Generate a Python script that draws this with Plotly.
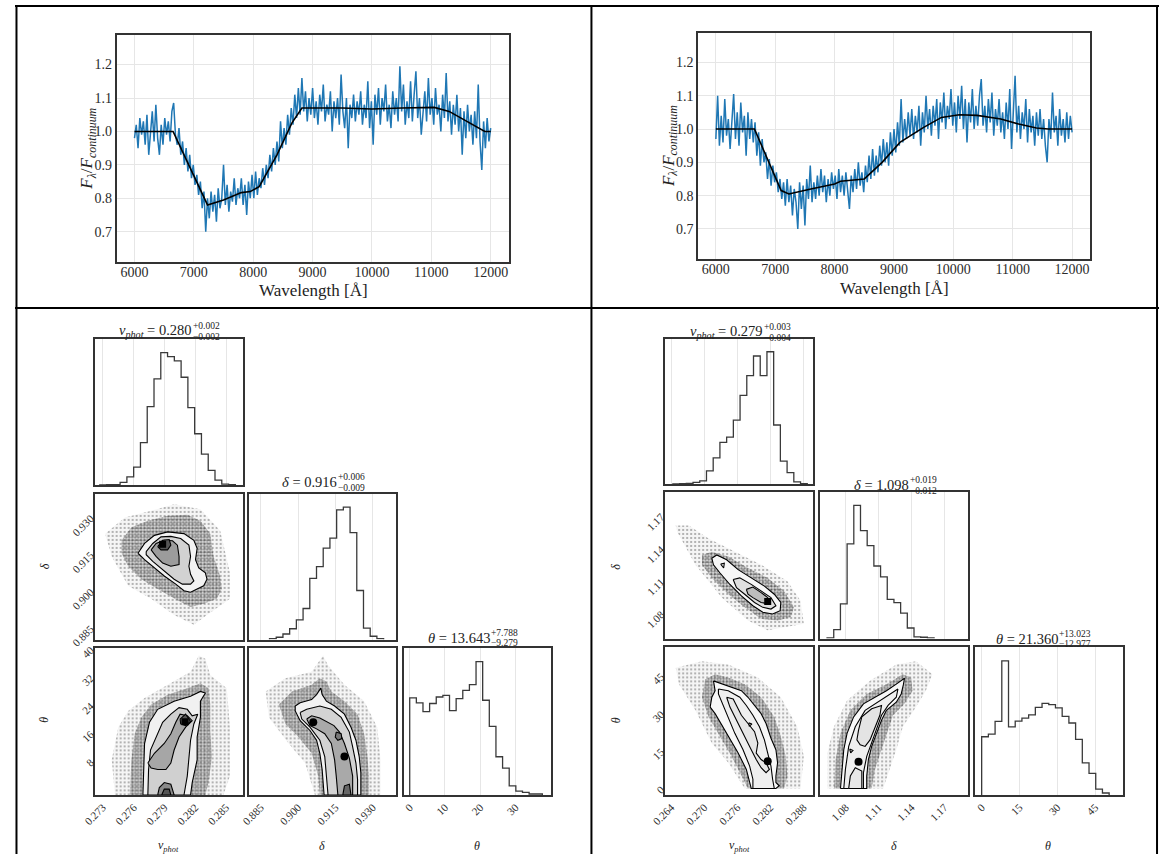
import plotly.graph_objects as go

W, H = 1159, 863
SERIF = "Liberation Serif, Times New Roman, serif"

# ---------------- spectra data ----------------
WAVELENGTH = list(range(6000, 12001, 30))
FLUX_LEFT = [
    0.98, 1.02, 0.95, 1.04, 0.99, 1.03, 0.96, 1.05, 0.93, 1.01,
    1.06, 0.97, 1.08, 0.98, 0.93, 1.02, 0.96, 1.04, 0.99, 1.03,
    0.97, 1.06, 1.085, 0.99, 0.96, 1.01, 0.93, 0.97, 0.90, 0.95,
    0.88, 0.93, 0.86, 0.90, 0.84, 0.87, 0.81, 0.85, 0.77, 0.82,
    0.70, 0.80, 0.74, 0.82, 0.76, 0.81, 0.73, 0.83, 0.77, 0.80,
    0.90, 0.78, 0.84, 0.76, 0.82, 0.79, 0.86, 0.78, 0.83, 0.80,
    0.86, 0.78, 0.84, 0.75, 0.85, 0.80, 0.87, 0.80, 0.88, 0.81,
    0.86, 0.83, 0.89, 0.84, 0.90, 0.86, 0.93, 0.88, 0.95, 0.90,
    0.97, 0.91, 1.03, 0.95, 1.01, 0.96, 1.05, 0.99, 1.07, 1.02,
    1.11, 1.04, 1.13, 1.05, 1.16, 1.06, 1.12, 1.03, 1.10, 1.05,
    1.13, 1.04, 1.09, 1.02, 1.11, 1.06, 1.14, 1.03, 1.08, 1.05,
    1.12, 1.00, 1.09, 1.04, 1.10, 1.02, 1.17, 1.06, 1.01, 1.10,
    0.95, 1.08, 1.04, 1.11, 1.03, 1.09, 1.05, 1.12, 1.02, 1.08,
    1.04, 1.15, 1.01, 1.09, 0.96, 1.11, 1.05, 1.13, 1.02, 1.10,
    1.06, 1.14, 1.03, 1.08, 1.01, 1.12, 1.05, 1.10, 1.03, 1.195,
    1.06, 1.14, 1.02, 1.09, 1.04, 1.15, 1.03, 1.11, 1.18, 1.04,
    1.10, 0.99, 1.07, 1.12, 1.03, 1.16, 1.05, 1.10, 1.02, 1.13,
    1.05, 1.08, 1.00, 1.11, 1.04, 1.175, 1.03, 1.09, 0.99, 1.08,
    1.02, 1.11, 1.00, 1.07, 0.93, 1.06, 0.98, 1.08, 1.00, 1.05,
    0.96, 1.06, 0.98, 1.14, 0.97, 0.885, 1.03, 0.95, 1.04, 0.97,
    1.01]
FLUX_RIGHT = [
    0.97, 1.10, 0.95, 1.04, 0.96, 1.09, 0.98, 1.03, 0.94, 1.02,
    1.105, 0.97, 1.05, 0.95, 1.08, 0.99, 1.04, 0.92, 1.05, 0.97,
    1.03, 0.96, 1.02, 0.92, 0.99, 0.89, 0.97, 0.90, 0.93, 0.85,
    0.91, 0.83, 0.89, 0.84, 0.87, 0.81, 0.85, 0.79, 0.84, 0.77,
    0.85, 0.78, 0.83, 0.74, 0.82, 0.78, 0.70, 0.84, 0.76, 0.83,
    0.71, 0.85, 0.79, 0.89, 0.78, 0.84, 0.79, 0.86, 0.80, 0.88,
    0.81, 0.86, 0.78, 0.85, 0.80, 0.87, 0.82, 0.86, 0.79, 0.88,
    0.81, 0.86, 0.80, 0.87, 0.82, 0.76, 0.86, 0.81, 0.88, 0.82,
    0.90, 0.83, 0.87, 0.81, 0.89, 0.84, 0.92, 0.85, 0.94, 0.86,
    0.92, 0.87, 0.95, 0.89, 0.97, 0.90, 0.96, 0.89, 0.99, 0.92,
    1.00, 0.93, 1.02, 0.95, 1.09, 0.96, 1.03, 0.97, 1.05, 0.98,
    1.06, 0.97, 1.04, 0.99, 1.07, 0.95, 1.05, 0.99, 1.10, 1.00,
    1.06, 0.98, 1.07, 1.01, 1.09, 0.97, 1.08, 1.02, 1.11, 1.00,
    1.07, 1.03, 1.12, 1.01, 1.08, 0.99, 1.10, 1.03, 1.13, 1.00,
    1.09, 0.96, 1.08, 1.02, 1.12, 1.00, 1.07, 1.01, 1.10, 1.15,
    1.01, 1.07, 0.99, 1.09, 1.02, 1.11, 0.98, 1.06, 1.01, 1.09,
    0.99, 1.05, 0.97, 1.08, 1.00, 1.12, 0.94, 1.04, 1.16, 0.99,
    1.07, 0.97, 1.05, 1.00, 1.09, 0.96, 1.06, 0.99, 1.04, 0.95,
    1.05, 0.98, 1.06, 0.97, 1.03, 0.95, 0.90, 1.03, 0.97, 1.11,
    0.99, 1.04, 0.95, 1.06, 0.98, 1.03, 0.96, 1.05, 0.97, 1.04,
    0.99]
MODEL_LEFT_WL = [6000, 6650, 7230, 7500, 7800, 7950, 8100, 8400, 8650, 8820,
                 9500, 10000, 10500, 11050, 11300, 11600, 11900, 12000]
MODEL_LEFT = [1.0, 1.0, 0.78, 0.795, 0.817, 0.82, 0.835, 0.93, 1.025, 1.07,
              1.07, 1.067, 1.07, 1.072, 1.06, 1.03, 1.0, 1.0]
MODEL_RIGHT_WL = [6000, 6650, 7100, 7230, 7600, 8000, 8100, 8500, 8800, 9100,
                  9500, 9800, 10100, 10400, 10800, 11100, 11400, 11600, 12000]
MODEL_RIGHT = [1.0, 1.0, 0.815, 0.805, 0.82, 0.835, 0.843, 0.85, 0.90, 0.96,
               1.005, 1.035, 1.043, 1.041, 1.03, 1.015, 1.003, 1.0, 1.0]
SPEC_XTICKS = [6000, 7000, 8000, 9000, 10000, 11000, 12000]
SPEC_YTICKS = [0.7, 0.8, 0.9, 1.0, 1.1, 1.2]

# ---------------- corner data: left (model A) ----------------
L_VPHOT_BIN0, L_VPHOT_BINW = 0.2727, 0.00066
L_VPHOT_COUNTS = [0.5, 1, 1, 8, 25, 55, 130, 240, 325, 405, 393, 380, 330, 237, 157, 95, 45, 15, 3, 1]
L_DELTA_BIN0, L_DELTA_BINW = 0.8885, 0.0027
L_DELTA_COUNTS = [3, 7, 17, 33, 60, 95, 187, 223, 280, 310, 397, 405, 327, 150, 35, 10, 3]
L_THETA_BIN0, L_THETA_BINW = 0.0, 1.883
L_THETA_COUNTS = [297, 282, 255, 280, 300, 305, 258, 295, 320, 338, 408, 290, 210, 117, 82, 28, 12, 8, 3, 3]
L_VPHOT_TICKS = [0.273, 0.276, 0.279, 0.282, 0.285]
L_DELTA_TICKS = [0.885, 0.900, 0.915, 0.930]
L_THETA_TICKS_X = [0, 10, 20, 30]
L_THETA_TICKS_Y = [8, 16, 24, 32, 40]
L_VPHOT_RANGE = [0.2722, 0.2866]
L_DELTA_RANGE = [0.8801, 0.9395]
L_THETA_RANGE = [-1.65, 40.1]

L_VD_HALO_OUT = [(0.27322, 0.9233), (0.27514, 0.9299), (0.27770, 0.9326), (0.27994, 0.9353), (0.28250, 0.9333),
                 (0.28442, 0.9246), (0.28538, 0.9073), (0.28538, 0.8967), (0.28314, 0.8901), (0.28186, 0.8861),
                 (0.27994, 0.8901), (0.27770, 0.8967), (0.27546, 0.9020), (0.27386, 0.9140)]
L_VD_HALO_IN = [(0.27482, 0.9206), (0.27578, 0.9259), (0.27738, 0.9286), (0.27930, 0.9306), (0.28122, 0.9310),
                (0.28250, 0.9286), (0.28346, 0.9233), (0.28378, 0.9140), (0.28442, 0.9060), (0.28458, 0.9007),
                (0.28410, 0.8967), (0.28282, 0.8947), (0.28154, 0.8934), (0.28026, 0.8961), (0.27834, 0.9007),
                (0.27674, 0.9047), (0.27546, 0.9100), (0.27482, 0.9153)]
L_VD_C1 = [(0.27642, 0.9153), (0.27706, 0.9193), (0.27802, 0.9226), (0.27930, 0.9240), (0.28090, 0.9233),
           (0.28186, 0.9206), (0.28218, 0.9173), (0.28202, 0.9127), (0.28234, 0.9093), (0.28298, 0.9073),
           (0.28314, 0.9047), (0.28282, 0.9020), (0.28218, 0.9007), (0.28154, 0.8994), (0.28090, 0.9000),
           (0.28010, 0.9027), (0.27898, 0.9060), (0.27802, 0.9093), (0.27706, 0.9127)]
L_VD_C2 = [(0.27722, 0.9160), (0.27786, 0.9193), (0.27866, 0.9220), (0.27962, 0.9222), (0.28058, 0.9213),
           (0.28138, 0.9186), (0.28154, 0.9140), (0.28138, 0.9100), (0.28154, 0.9067), (0.28186, 0.9040),
           (0.28154, 0.9027), (0.28074, 0.9027), (0.27994, 0.9047), (0.27898, 0.9080), (0.27786, 0.9120),
           (0.27722, 0.9147)]
L_VD_C3 = [(0.27770, 0.9167), (0.27818, 0.9193), (0.27898, 0.9206), (0.27978, 0.9204), (0.28026, 0.9186),
           (0.28042, 0.9140), (0.28042, 0.9107), (0.27962, 0.9100), (0.27882, 0.9113), (0.27818, 0.9140)]
L_VD_C4 = [(0.27834, 0.9180), (0.27882, 0.9206), (0.27946, 0.9209), (0.27962, 0.9186), (0.27930, 0.9167),
           (0.27866, 0.9167)]
L_VD_PEAKS = [(0.27882, 0.9190)]

L_VT_HALO_OUT = [(0.27418, -1.65), (0.27386, 8.37), (0.27450, 17.65), (0.27546, 22.29), (0.27706, 26.00),
                 (0.27930, 29.71), (0.28154, 33.42), (0.28234, 38.06), (0.28298, 37.13), (0.28346, 32.49),
                 (0.28506, 28.78), (0.28538, 17.65), (0.28538, 3.73), (0.28474, -1.65)]
L_VT_HALO_IN = [(0.27562, -1.65), (0.27578, 8.37), (0.27610, 15.79), (0.27674, 20.43), (0.27770, 24.14),
                (0.27930, 26.93), (0.28122, 28.78), (0.28250, 30.17), (0.28330, 28.78), (0.28346, 24.14),
                (0.28346, 16.72), (0.28362, 9.30), (0.28330, 1.88), (0.28298, -1.65)]
L_VT_C1 = [(0.27690, -1.65), (0.27706, 13.01), (0.27754, 19.04), (0.27834, 22.75), (0.27994, 25.07),
           (0.28154, 26.46), (0.28250, 27.85), (0.28298, 27.39), (0.28250, 25.07), (0.28250, 20.43),
           (0.28218, 14.86), (0.28218, 8.37), (0.28170, 1.88), (0.28154, -1.65)]
L_VT_C2 = [(0.27738, -1.65), (0.27745, 5.59), (0.27764, 11.15), (0.27834, 15.79), (0.27882, 19.04),
           (0.27962, 21.36), (0.28042, 23.22), (0.28122, 22.75), (0.28170, 20.90), (0.28224, 21.36),
           (0.28186, 18.58), (0.28154, 13.94), (0.28138, 8.37), (0.28122, 3.73), (0.28090, -1.65)]
L_VT_C3 = [(0.27738, 7.44), (0.27802, 10.23), (0.27898, 13.01), (0.27962, 15.79), (0.28010, 19.04),
           (0.28052, 21.36), (0.28122, 20.90), (0.28170, 19.50), (0.28106, 17.65), (0.28042, 14.86),
           (0.27994, 11.15), (0.27962, 7.44), (0.27914, 5.59), (0.27834, 5.59), (0.27770, 6.05)]
L_VT_C3B = [(0.27834, -1.65), (0.27850, 0.48), (0.27898, 1.88), (0.27962, 1.41), (0.27994, -1.65)]
L_VT_C4 = [(0.28052, 19.97), (0.28106, 21.36), (0.28154, 19.32), (0.28106, 18.11), (0.28058, 18.58)]
L_VT_C4B = [(0.27873, -1.65), (0.27898, 0.02), (0.27946, 0.02), (0.27962, -1.65)]
L_VT_PEAKS = [(0.28100, 19.23)]

L_DT_HALO_OUT = [(0.88696, 27.85), (0.89488, 31.57), (0.90544, 33.42), (0.91006, 38.06), (0.91204, 35.28),
                 (0.91864, 29.71), (0.92656, 25.07), (0.93184, 17.65), (0.93316, 8.37), (0.93316, -1.65),
                 (0.90676, -1.65), (0.90280, 7.44), (0.89620, 13.01), (0.88828, 20.43)]
L_DT_HALO_IN = [(0.89224, 24.14), (0.89752, 27.85), (0.90544, 29.71), (0.90874, 31.57), (0.91138, 30.64),
                (0.91336, 27.85), (0.91864, 25.07), (0.92392, 21.36), (0.92656, 15.79), (0.92788, 9.30),
                (0.92854, 3.73), (0.92854, -1.65), (0.90874, -1.65), (0.90808, 3.73), (0.90544, 10.23),
                (0.90016, 14.86), (0.89488, 18.58)]
L_DT_C1 = [(0.89884, 23.68), (0.90082, 24.61), (0.90544, 25.53), (0.90742, 26.93), (0.90914, 28.78),
           (0.90967, 26.93), (0.91138, 25.07), (0.91468, 23.68), (0.91864, 21.36), (0.92128, 17.65),
           (0.92326, 13.94), (0.92458, 9.30), (0.92524, 4.66), (0.92524, -1.65), (0.91046, -1.65),
           (0.91006, 1.88), (0.90967, 5.59), (0.90874, 10.23), (0.90742, 13.94), (0.90478, 16.72),
           (0.90082, 19.50), (0.89884, 22.29)]
L_DT_C2 = [(0.90082, 21.82), (0.90346, 22.75), (0.90874, 23.68), (0.91336, 22.75), (0.91732, 20.43),
           (0.92062, 16.26), (0.92194, 12.08), (0.92326, 7.44), (0.92392, 2.80), (0.92392, -1.65),
           (0.91204, -1.65), (0.91138, 3.73), (0.91072, 9.30), (0.90874, 13.94), (0.90478, 17.65),
           (0.90148, 19.97)]
L_DT_C3 = [(0.90346, 19.97), (0.90544, 20.90), (0.90874, 20.25), (0.91204, 19.04), (0.91442, 18.11),
           (0.91666, 16.26), (0.91864, 13.01), (0.92062, 8.83), (0.92194, 3.73), (0.92194, -1.65),
           (0.91600, -1.65), (0.91534, 3.73), (0.91468, 8.37), (0.91336, 13.01), (0.91072, 15.79),
           (0.90742, 17.18), (0.90478, 18.11)]
L_DT_C4 = [(0.91534, 16.26), (0.91732, 15.79), (0.91759, 14.40), (0.91600, 13.94), (0.91495, 14.86)]
L_DT_C4B = [(0.91798, -1.65), (0.91864, 0.95), (0.92062, 1.41), (0.92128, -1.65)]
L_DT_PEAKS = [(0.90610, 19.04), (0.91864, 9.30)]

# ---------------- corner data: right (model B) ----------------
R_VPHOT_BIN0, R_VPHOT_BINW = 0.2643, 0.00122
R_VPHOT_COUNTS = [0.5, 1, 2, 5, 10, 40, 80, 127, 143, 195, 270, 330, 390, 330, 403, 180, 70, 35, 7, 1]
R_DELTA_BIN0, R_DELTA_BINW = 1.0629, 0.0061
R_DELTA_COUNTS = [2, 27, 105, 287, 404, 327, 282, 220, 187, 119, 109, 77, 32, 5, 4, 2]
R_THETA_BIN0, R_THETA_BINW = 0.0, 2.66
R_THETA_COUNTS = [178, 186, 225, 410, 208, 226, 235, 245, 268, 280, 276, 266, 240, 220, 170, 98, 66, 18, 6]
R_VPHOT_TICKS = [0.264, 0.270, 0.276, 0.282, 0.288]
R_DELTA_TICKS = [1.08, 1.11, 1.14, 1.17]
R_THETA_TICKS = [0, 15, 30, 45]
R_VPHOT_RANGE = [0.2629, 0.28975]
R_DELTA_RANGE = [1.0566, 1.1919]
R_THETA_RANGE = [-2.6, 56.1]

R_VD_HALO_OUT = [(0.26481, 1.1610), (0.26720, 1.1610), (0.27078, 1.1489), (0.27555, 1.1368), (0.28032, 1.1247),
                 (0.28510, 1.1096), (0.28748, 1.0914), (0.28808, 1.0702), (0.28510, 1.0672), (0.28152, 1.0642),
                 (0.27794, 1.0732), (0.27316, 1.0944), (0.26839, 1.1247), (0.26511, 1.1550)]
R_VD_HALO_IN = [(0.26958, 1.1338), (0.27137, 1.1368), (0.27436, 1.1323), (0.27794, 1.1217), (0.28152, 1.1126),
                (0.28450, 1.1005), (0.28629, 1.0854), (0.28569, 1.0763), (0.28331, 1.0732), (0.28032, 1.0748),
                (0.27734, 1.0854), (0.27436, 1.0975), (0.27137, 1.1126), (0.26958, 1.1247)]
R_VD_C1 = [(0.27137, 1.1308), (0.27227, 1.1338), (0.27406, 1.1293), (0.27615, 1.1202), (0.27853, 1.1126),
           (0.28092, 1.1050), (0.28271, 1.0975), (0.28390, 1.0899), (0.28378, 1.0823), (0.28241, 1.0793),
           (0.28062, 1.0808), (0.27883, 1.0869), (0.27674, 1.0960), (0.27466, 1.1065), (0.27286, 1.1171),
           (0.27167, 1.1247)]
R_VD_C2 = [(0.27525, 1.1111), (0.27645, 1.1126), (0.27853, 1.1066), (0.28032, 1.1005), (0.28211, 1.0944),
           (0.28301, 1.0869), (0.28211, 1.0838), (0.28062, 1.0854), (0.27913, 1.0899), (0.27734, 1.0975),
           (0.27585, 1.1035)]
R_VD_C3 = [(0.27764, 1.1020), (0.27883, 1.1041), (0.28032, 1.0990), (0.28152, 1.0944), (0.28182, 1.0884),
           (0.28032, 1.0899), (0.27883, 1.0944), (0.27794, 1.0975)]
R_VD_C4 = [(0.27298, 1.1253), (0.27364, 1.1262), (0.27352, 1.1217)]
R_VD_PEAKS = [(0.28152, 1.0908)]

R_VT_HALO_OUT = [(0.26481, 48.01), (0.26958, 50.62), (0.27436, 49.31), (0.27973, 44.10), (0.28390, 36.27),
                 (0.28689, 24.53), (0.28808, 12.79), (0.28748, 0.0), (0.27734, 0.0), (0.27436, 10.18),
                 (0.27137, 18.01), (0.26839, 31.06), (0.26541, 41.49)]
R_VT_HALO_IN = [(0.27018, 43.45), (0.27197, 45.40), (0.27436, 44.10), (0.27734, 41.49), (0.28032, 36.27),
                (0.28271, 28.45), (0.28390, 20.62), (0.28480, 12.79), (0.28510, 4.97), (0.28450, 0.0),
                (0.27794, 0.0), (0.27674, 4.97), (0.27495, 12.79), (0.27286, 20.62), (0.27078, 28.45),
                (0.26958, 36.27)]
R_VT_C1 = [(0.27167, 42.79), (0.27436, 40.84), (0.27674, 38.88), (0.27794, 36.27), (0.27913, 33.01),
           (0.28032, 29.75), (0.28122, 25.84), (0.28211, 19.97), (0.28301, 15.40), (0.28331, 10.18),
           (0.28301, 4.97), (0.28301, 2.36), (0.28361, 1.05), (0.28301, 0.0), (0.27853, 0.0),
           (0.27824, 2.36), (0.27764, 7.57), (0.27615, 14.10), (0.27406, 21.92), (0.27197, 29.75),
           (0.27107, 32.36), (0.27137, 36.27), (0.27197, 38.88)]
R_VT_C2 = [(0.27257, 39.53), (0.27436, 38.88), (0.27645, 36.27), (0.27764, 33.01), (0.27883, 29.10),
           (0.28002, 24.53), (0.28092, 19.31), (0.28152, 14.10), (0.28211, 8.88), (0.28241, 3.66),
           (0.28271, 0.0), (0.27883, 0.0), (0.27883, 3.66), (0.27824, 8.88), (0.27704, 15.40),
           (0.27555, 21.92), (0.27436, 28.45), (0.27316, 34.97), (0.27257, 37.58)]
R_VT_C3 = [(0.27406, 36.27), (0.27525, 35.62), (0.27585, 33.01), (0.27674, 29.10), (0.27794, 25.84),
           (0.27913, 22.57), (0.27973, 18.01), (0.27943, 14.10), (0.28032, 11.49), (0.28122, 10.18),
           (0.28182, 7.57), (0.28122, 6.27), (0.28032, 8.23), (0.27943, 11.49), (0.27853, 15.40),
           (0.27734, 20.62), (0.27645, 24.53), (0.27555, 28.45), (0.27466, 32.36)]
R_VT_C4 = [(0.27806, 26.10), (0.27865, 25.58), (0.27818, 24.79)]
R_VT_PEAKS = [(0.28152, 10.84)]

R_DT_HALO_OUT = [(1.06318, 0.0), (1.06318, 14.10), (1.06917, 24.53), (1.08114, 34.97), (1.10209, 42.79),
                 (1.12604, 49.31), (1.14400, 50.62), (1.15896, 45.40), (1.15298, 38.88), (1.14400, 32.36),
                 (1.13202, 24.53), (1.12604, 15.40), (1.11407, 0.0)]
R_DT_HALO_IN = [(1.06917, 0.0), (1.07067, 11.49), (1.07516, 21.92), (1.08414, 31.06), (1.09910, 37.58),
                (1.11706, 41.49), (1.13202, 45.40), (1.13951, 44.10), (1.14100, 38.88), (1.13352, 33.66),
                (1.12305, 29.10), (1.11856, 23.23), (1.11257, 15.40), (1.10658, 7.57), (1.10359, 0.0)]
R_DT_C1 = [(1.07516, 0.0), (1.07665, 7.57), (1.07815, 15.40), (1.08114, 21.92), (1.08713, 28.45),
           (1.09611, 33.66), (1.10658, 36.27), (1.11706, 38.88), (1.12604, 41.49), (1.13352, 43.84),
           (1.13262, 41.49), (1.13053, 37.58), (1.12604, 34.31), (1.11706, 31.06), (1.11257, 27.14),
           (1.10808, 21.92), (1.10359, 16.71), (1.10060, 11.49), (1.09910, 4.97), (1.09910, 0.0)]
R_DT_C2 = [(1.07815, 0.0), (1.07965, 7.57), (1.08264, 16.71), (1.08863, 24.53), (1.09760, 31.06),
           (1.10958, 34.31), (1.12155, 37.58), (1.12753, 39.53), (1.12604, 36.27), (1.11856, 33.01),
           (1.11257, 29.10), (1.10808, 23.88), (1.10359, 18.01), (1.09910, 12.79), (1.09611, 6.27),
           (1.09611, 0.0)]
R_DT_C3 = [(1.09162, 23.23), (1.09461, 28.45), (1.10359, 31.71), (1.11257, 33.01), (1.11107, 29.10),
           (1.10658, 24.53), (1.10209, 19.31), (1.09760, 16.71), (1.09311, 17.36), (1.09012, 19.31)]
R_DT_C3B = [(1.08264, 0.0), (1.08414, 4.97), (1.08863, 8.23), (1.09461, 6.92), (1.09461, 0.0)]
R_DT_C4 = [(1.08354, 15.66), (1.08653, 15.14), (1.08444, 14.10)]
R_DT_PEAKS = [(1.09162, 10.57)]

# ---------------- helpers ----------------
FRAME = "#333333"
TICKC = "#2b2b2b"
GRID = "#e6e6e6"


def P(xp):
    return xp / W


def Q(yp):
    return 1 - yp / H


fig = go.Figure()
layout = {}


def names(n):
    return ("x" if n == 1 else f"x{n}"), ("y" if n == 1 else f"y{n}")


def set_axes(n, xpx, ypx, xr, yr, xkw, ykw):
    xk = "xaxis" if n == 1 else f"xaxis{n}"
    yk = "yaxis" if n == 1 else f"yaxis{n}"
    xn, yn = names(n)
    base = dict(zeroline=False, showline=True, mirror=True, linecolor=FRAME,
                linewidth=1.5, ticks="", fixedrange=True)
    layout[xk] = dict(base, domain=[P(xpx[0]), P(xpx[1])], range=xr, anchor=yn, **xkw)
    layout[yk] = dict(base, domain=[Q(ypx[1]), Q(ypx[0])], range=yr, anchor=xn, **ykw)


def add_line(n, xs, ys, color, width):
    xn, yn = names(n)
    fig.add_trace(go.Scatter(x=xs, y=ys, mode="lines", line=dict(color=color, width=width),
                             xaxis=xn, yaxis=yn, showlegend=False, hoverinfo="skip"))


def add_hist(n, start, width, counts):
    xn, yn = names(n)
    edges = [start + width * k for k in range(len(counts) + 1)]
    xs = [edges[0]] + edges
    ys = [0] + list(counts) + [0]
    fig.add_trace(go.Scatter(x=xs, y=ys, mode="lines",
                             line=dict(color="#3a3a3a", width=1.3, shape="hv"),
                             xaxis=xn, yaxis=yn, showlegend=False, hoverinfo="skip"))


def add_poly(n, pts, fill, lw=1.1, pattern=None):
    xn, yn = names(n)
    xs = [p[0] for p in pts] + [pts[0][0]]
    ys = [p[1] for p in pts] + [pts[0][1]]
    line = dict(color="black", width=lw) if lw > 0 else dict(color="rgba(0,0,0,0)", width=0)
    kw = {}
    if pattern is not None:
        kw["fillpattern"] = pattern
    fig.add_trace(go.Scatter(x=xs, y=ys, mode="lines", fill="toself", fillcolor=fill, line=line,
                             xaxis=xn, yaxis=yn, showlegend=False, hoverinfo="skip", **kw))


def add_peaks(n, pts, symbol="square", size=7):
    xn, yn = names(n)
    fig.add_trace(go.Scatter(x=[p[0] for p in pts], y=[p[1] for p in pts], mode="markers",
                             marker=dict(symbol=symbol, size=size, color="black"),
                             xaxis=xn, yaxis=yn, showlegend=False, hoverinfo="skip"))


annotations = []


def text(xp, yp, s, size, xanchor="center", yanchor="middle", angle=0, color="#222"):
    annotations.append(dict(x=P(xp), y=Q(yp), xref="paper", yref="paper", text=s, showarrow=False,
                            xanchor=xanchor, yanchor=yanchor, textangle=angle, borderpad=0,
                            font=dict(family=SERIF, size=size, color=color)))


def title(xsplit, yc, main, plus, minus):
    text(xsplit, yc, main, 14.5, xanchor="right")
    text(xsplit - 1, yc - 5, plus, 9.5, xanchor="left")
    text(xsplit - 1, yc + 6, minus, 9.5, xanchor="left")


tickfont_spec = dict(family=SERIF, size=14, color=TICKC)
tickfont_c = dict(family=SERIF, size=11, color=TICKC)

# ---------------- spectra ----------------
spec_x = dict(showgrid=True, gridcolor=GRID, tickvals=SPEC_XTICKS, tickformat="d", tickfont=tickfont_spec,
              ticklabelstandoff=-3)
spec_y = dict(showgrid=True, gridcolor=GRID, tickvals=SPEC_YTICKS, tickformat=".1f", tickfont=tickfont_spec)
set_axes(1, (103, 500), (30, 261), [5700, 12300], [0.61, 1.29], spec_x, spec_y)
set_axes(2, (692, 1089), (28, 258), [5700, 12300], [0.61, 1.29], spec_x, spec_y)
add_line(1, WAVELENGTH, FLUX_LEFT, "#1f77b4", 1.5)
add_line(1, MODEL_LEFT_WL, MODEL_LEFT, "black", 1.6)
add_line(2, WAVELENGTH, FLUX_RIGHT, "#1f77b4", 1.5)
add_line(2, MODEL_RIGHT_WL, MODEL_RIGHT, "black", 1.6)
ylab = "<i>F</i><sub><i>λ</i></sub>/<i>F</i><sub><i>continuum</i></sub>"
text(74, 146, ylab, 17, angle=-90)
text(663, 143, ylab, 17, angle=-90)
text(302, 290, "Wavelength [Å]", 17)
text(891, 288, "Wavelength [Å]", 17)

HALO_OUT_PAT = dict(shape=".", size=4, solidity=0.22, fgcolor="rgba(20,20,20,0.75)", fillmode="overlay")
HALO_IN_PAT = dict(shape=".", size=3, solidity=0.45, fgcolor="rgba(0,0,0,0.85)", fillmode="overlay")


# ---------------- corner plots ----------------
def corner(base_n, cols, rows, vr, dr, tr, vt, dt, ttx, tty, fmts,
           hists, vd, vt_set, dt_set, titles, labels_x, ylab_x):
    fv, fd, ft = fmts
    noticks = dict(showgrid=False, showticklabels=False)

    def hx(tv):
        return dict(showgrid=True, gridcolor=GRID, tickvals=tv, showticklabels=False)

    def tx(tv, f):
        return dict(showgrid=False, showticklabels=True, tickvals=tv, tickformat=f,
                    tickangle=-45, tickfont=tickfont_c)

    def hx_lab(tv, f):
        return dict(showgrid=True, gridcolor=GRID, tickvals=tv, tickformat=f, showticklabels=True,
                    tickangle=-45, tickfont=tickfont_c)

    (hv, hd, ht) = hists
    set_axes(base_n, cols[0], rows[0], vr, [0, 1.1 * max(hv[2])], hx(vt), noticks)
    set_axes(base_n + 2, cols[1], rows[1], dr, [0, 1.1 * max(hd[2])], hx(dt), noticks)
    set_axes(base_n + 5, cols[2], rows[2], tr, [0, 1.1 * max(ht[2])], hx_lab(ttx, ft), noticks)
    add_hist(base_n, *hv)
    add_hist(base_n + 2, *hd)
    add_hist(base_n + 5, *ht)
    set_axes(base_n + 1, cols[0], rows[1], vr, dr, noticks, tx(dt, fd))
    set_axes(base_n + 3, cols[0], rows[2], vr, tr, tx(vt, fv), tx(tty, ft))
    set_axes(base_n + 4, cols[1], rows[2], dr, tr, tx(dt, fd), noticks)
    for n, s in ((base_n + 1, vd), (base_n + 3, vt_set), (base_n + 4, dt_set)):
        add_poly(n, s["halo_out"], "rgba(0,0,0,0.04)", 0, HALO_OUT_PAT)
        add_poly(n, s["halo_in"], "rgba(0,0,0,0.10)", 0, HALO_IN_PAT)
        for pts, col in s["levels"]:
            add_poly(n, pts, col)
        add_peaks(n, s["peaks"], s.get("sym", "square"), s.get("size", 7))
    for (xs, yc, main, plus, minus) in titles:
        title(xs, yc, main, plus, minus)
    text(labels_x[0], 855, "<i>v</i><sub><i>phot</i></sub>", 12)
    text(labels_x[1], 855, "<i>δ</i>", 12)
    text(labels_x[2], 855, "<i>θ</i>", 12)
    text(ylab_x, 571, "<i>δ</i>", 12, angle=-90)
    text(ylab_x, 727, "<i>θ</i>", 12, angle=-90)


VPHOT_TXT = "<i>v</i><sub><i>phot</i></sub> = "

corner(3,
       cols=[(80.7, 230.5), (236.7, 386.3), (394, 543)],
       rows=[(340, 488), (497, 645), (654, 803)],
       vr=L_VPHOT_RANGE, dr=L_DELTA_RANGE, tr=L_THETA_RANGE,
       vt=L_VPHOT_TICKS, dt=L_DELTA_TICKS, ttx=L_THETA_TICKS_X, tty=L_THETA_TICKS_Y,
       fmts=(".3f", ".3f", "d"),
       hists=((L_VPHOT_BIN0, L_VPHOT_BINW, L_VPHOT_COUNTS),
              (L_DELTA_BIN0, L_DELTA_BINW, L_DELTA_COUNTS),
              (L_THETA_BIN0, L_THETA_BINW, L_THETA_COUNTS)),
       vd=dict(halo_out=L_VD_HALO_OUT, halo_in=L_VD_HALO_IN,
               levels=[(L_VD_C1, "#f3f3f3"), (L_VD_C2, "#d2d2d2"), (L_VD_C3, "#9c9c9c"), (L_VD_C4, "#555555")],
               peaks=L_VD_PEAKS),
       vt_set=dict(halo_out=L_VT_HALO_OUT, halo_in=L_VT_HALO_IN,
                   levels=[(L_VT_C1, "#f1f1f1"), (L_VT_C2, "#d0d0d0"), (L_VT_C3, "#a6a6a6"),
                           (L_VT_C3B, "#8a8a8a"), (L_VT_C4, "#555555"), (L_VT_C4B, "#555555")],
                   peaks=L_VT_PEAKS),
       dt_set=dict(halo_out=L_DT_HALO_OUT, halo_in=L_DT_HALO_IN,
                   levels=[(L_DT_C1, "#f1f1f1"), (L_DT_C2, "#d3d3d3"), (L_DT_C3, "#a9a9a9"),
                           (L_DT_C4, "#777777"), (L_DT_C4B, "#666666")],
                   peaks=L_DT_PEAKS, sym="circle", size=8),
       titles=[(180, 331, VPHOT_TXT + "0.280", "+0.002", "−0.002"),
               (327, 485, "<i>δ</i> = 0.916", "+0.006", "−0.009"),
               (482, 643, "<i>θ</i> = 13.643", "+7.788", "−9.279")],
       labels_x=(155.6, 311.5, 468.5), ylab_x=30)

corner(9,
       cols=[(658.7, 808.5), (815.7, 966), (972.7, 1122.7)],
       rows=[(339, 487), (495, 644), (653, 803)],
       vr=R_VPHOT_RANGE, dr=R_DELTA_RANGE, tr=R_THETA_RANGE,
       vt=R_VPHOT_TICKS, dt=R_DELTA_TICKS, ttx=R_THETA_TICKS, tty=R_THETA_TICKS,
       fmts=(".3f", ".2f", "d"),
       hists=((R_VPHOT_BIN0, R_VPHOT_BINW, R_VPHOT_COUNTS),
              (R_DELTA_BIN0, R_DELTA_BINW, R_DELTA_COUNTS),
              (R_THETA_BIN0, R_THETA_BINW, R_THETA_COUNTS)),
       vd=dict(halo_out=R_VD_HALO_OUT, halo_in=R_VD_HALO_IN,
               levels=[(R_VD_C1, "#f7f7f7"), (R_VD_C2, "#e0e0e0"), (R_VD_C3, "#bdbdbd"), (R_VD_C4, "#f7f7f7")],
               peaks=R_VD_PEAKS),
       vt_set=dict(halo_out=R_VT_HALO_OUT, halo_in=R_VT_HALO_IN,
                   levels=[(R_VT_C1, "#f8f8f8"), (R_VT_C2, "#efefef"), (R_VT_C3, "#e6e6e6"), (R_VT_C4, "#dddddd")],
                   peaks=R_VT_PEAKS, sym="circle", size=8),
       dt_set=dict(halo_out=R_DT_HALO_OUT, halo_in=R_DT_HALO_IN,
                   levels=[(R_DT_C1, "#f8f8f8"), (R_DT_C2, "#efefef"), (R_DT_C3, "#e4e4e4"),
                           (R_DT_C3B, "#e8e8e8"), (R_DT_C4, "#dddddd")],
                   peaks=R_DT_PEAKS, sym="circle", size=8),
       titles=[(759, 332, VPHOT_TXT + "0.279", "+0.003", "−0.004"),
               (907, 488, "<i>δ</i> = 1.098", "+0.019", "−0.012"),
               (1058, 644, "<i>θ</i> = 21.360", "+13.023", "−12.977")],
       labels_x=(733.6, 891, 1047), ylab_x=609)

# ---------------- frame lines ----------------
shapes = []
for (x0, y0, x1, y1) in [(0, 1, W, 1), (1.5, 0, 1.5, H), (W - 2, 0, W - 2, H),
                         (584, 0, 584, H), (0, 308, W, 308)]:
    shapes.append(dict(type="line", xref="paper", yref="paper", x0=P(x0), y0=Q(y0), x1=P(x1), y1=Q(y1),
                       line=dict(color="black", width=2)))

fig.update_layout(width=W, height=H, margin=dict(l=0, r=0, t=0, b=0),
                  paper_bgcolor="white", plot_bgcolor="white", showlegend=False,
                  annotations=annotations, shapes=shapes, **layout)
fig.write_html("out.html",
               post_script="document.body.style.margin='0px';document.body.style.padding='0px';"
                           "document.body.style.overflow='hidden';")
